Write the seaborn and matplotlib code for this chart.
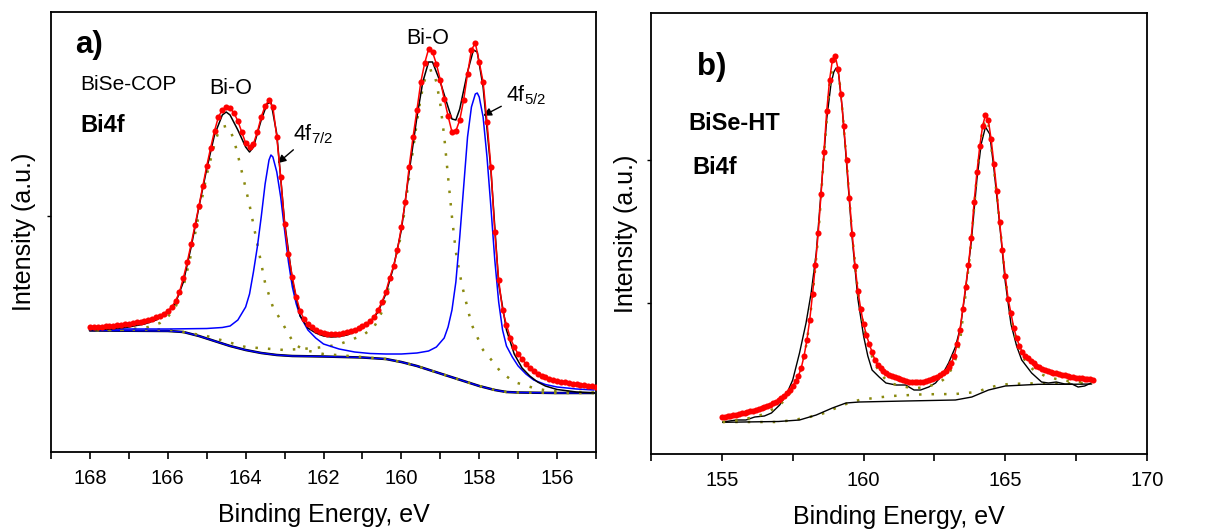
import numpy as np
import matplotlib
matplotlib.use("Agg")
import matplotlib.pyplot as plt
import seaborn as sns

# ---------------- Panel a (BiSe-COP) ----------------
be_a = np.round(np.arange(168.0, 154.95, -0.1), 1)
red_a = [125, 125, 125.5, 125.5, 126, 126, 126.5, 127, 127.5, 128,
         128.5, 129, 130, 130.5, 131.5, 132.5, 133.5, 135, 136.5, 138.5,
         141, 145, 151, 160, 174, 190, 208, 227, 246, 266,
         286, 304, 321, 335, 342, 345, 344, 339, 331, 320,
         309, 305, 308, 320, 335, 346, 352, 345, 315, 275,
         228, 198, 175, 155, 141, 133, 128, 125, 122.5, 120.5,
         119, 118.5, 118, 118, 118.5, 119, 120, 121, 122, 124,
         126, 128, 131, 135, 142, 150, 160, 174, 186, 202,
         225, 250, 285, 315, 342, 370, 389, 403, 400, 388,
         372, 353, 336, 320, 321, 332, 352, 378, 402, 409,
         390, 370, 330, 285, 220, 172, 142, 127, 114, 105,
         98, 93, 88, 84, 81, 78.5, 76.5, 75, 73.5, 72.5,
         71.5, 70.5, 70, 69, 68.5, 68, 67.5, 67, 66.5, 66,
         65.5]

fit_a_x = [168.0, 167.5, 167.0, 166.6, 166.3, 166.0, 165.8, 165.6, 165.4, 165.2,
           165.0, 164.8, 164.6, 164.5, 164.4, 164.2, 164.0, 163.9, 163.8, 163.6,
           163.45, 163.35, 163.2, 163.0, 162.8, 162.6, 162.4, 162.2, 162.0, 161.8,
           161.6, 161.4, 161.2, 161.0, 160.8, 160.6, 160.4, 160.2, 160.0, 159.8,
           159.6, 159.45, 159.3, 159.2, 159.0, 158.8, 158.7, 158.6, 158.5, 158.3,
           158.15, 158.05, 157.9, 157.7, 157.5, 157.3, 157.1, 156.9, 156.7, 156.5,
           156.3, 156.0, 155.5, 155.05]
fit_a_y = [122, 123, 125, 128, 132, 139, 149, 170, 205, 245,
           283, 317, 337, 340, 337, 322, 305, 300, 305, 332,
           348, 350, 318, 230, 172, 136, 124, 119, 116, 115,
           115.5, 117, 120, 124, 130, 140, 158, 185, 222, 280,
           335, 370, 390, 390, 370, 345, 333, 332, 343, 380,
           402, 400, 365, 282, 168, 122, 98, 84, 76, 70,
           66, 62.5, 60, 59]

bg_a_x = [168.0, 166.0, 165.6, 165.2, 164.8, 164.4, 164.0, 163.6, 163.2, 162.8,
          162.0, 161.0, 160.4, 160.0, 159.6, 159.2, 158.8, 158.4, 158.0, 157.6,
          157.3, 157.0, 156.0, 155.05]
bg_a_y = [121.5, 121, 120, 116, 111, 106, 102, 99, 97, 96,
          95.5, 94.5, 93, 90, 86, 81, 76, 71, 66, 62,
          60, 59.5, 59, 59]

bise_a_x = [168.0, 166.0, 165.0, 164.6, 164.4, 164.2, 164.0, 163.9, 163.8, 163.7,
            163.6, 163.5, 163.4, 163.35, 163.3, 163.2, 163.1, 163.0, 162.9, 162.8,
            162.7, 162.6, 162.4, 162.2, 162.0, 161.6, 161.2, 160.8, 160.4, 160.0,
            159.6, 159.3, 159.1, 158.9, 158.8, 158.7, 158.6, 158.5, 158.4, 158.3,
            158.2, 158.1, 158.05, 158.0, 157.9, 157.8, 157.7, 157.6, 157.5, 157.4,
            157.3, 157.15, 157.0, 156.8, 156.6, 156.3, 156.0, 155.5, 155.05]
bise_a_y = [123, 123, 123.5, 124.5, 126, 132, 145, 158, 180, 205,
            235, 268, 292, 297, 295, 280, 255, 222, 190, 165,
            148, 136, 122, 114, 108, 103, 100, 98.5, 98, 98,
            99, 101, 105, 114, 125, 142, 170, 215, 265, 315,
            345, 358, 359, 355, 335, 295, 245, 192, 150, 122,
            106, 95, 86, 78, 72, 67.5, 65, 63, 62]

bio1_a_x = [168.0, 167.0, 166.5, 166.2, 166.0, 165.8, 165.6, 165.4, 165.2, 165.0,
            164.8, 164.7, 164.6, 164.5, 164.4, 164.3, 164.2, 164.0, 163.9, 163.7,
            163.5, 163.3, 163.1, 162.9, 162.75, 162.5, 162.0, 161.5, 161.0, 160.4,
            160.0, 159.6, 159.2, 158.8, 158.4, 158.0, 157.6, 157.3, 157.0, 156.0,
            155.05]
bio1_a_y = [121.5, 122.5, 125, 129, 135, 145, 165, 198, 238, 277,
            308, 320, 325, 326, 322, 312, 297, 264, 247, 208,
            169, 145, 132, 118, 108, 102, 98, 96.5, 95, 93,
            90, 86, 81, 76, 71, 66, 62, 60, 59.5, 59,
            59]

bio2_a_x = [168.0, 166.0, 165.0, 164.0, 163.0, 162.2, 161.65, 161.3, 160.98, 160.7,
            160.5, 160.3, 160.0, 159.8, 159.6, 159.5, 159.4, 159.3, 159.2, 159.1,
            159.0, 158.9, 158.8, 158.7, 158.6, 158.45, 158.2, 157.9, 157.6, 157.45,
            157.1, 156.6, 156.2, 155.05]
bio2_a_y = [122, 122.5, 116, 105, 102, 104, 107, 112, 117, 125,
            140, 168, 218, 275, 330, 355, 372, 381, 382, 370,
            348, 316, 275, 235, 200, 168, 128, 102, 88, 80,
            70, 64, 61, 59.5]

# ---------------- Panel b (BiSe-HT) ----------------
be_b = np.round(np.arange(155.0, 168.15, 0.1), 1)
red_b = [37, 37.5, 38, 38.5, 39, 39.5, 40.5, 41, 41.5, 42.5,
         43, 43.5, 44.5, 45, 46, 47, 48, 49.5, 51, 52.5,
         54, 56, 58.5, 61.5, 64.5, 68, 73, 78, 86, 98,
         114, 134, 160, 189, 221, 260, 302, 343, 374, 394,
         398, 385, 360, 328, 294, 256, 220, 188, 163, 145,
         130, 119, 110, 102, 94, 89, 86, 83.5, 81.5, 79.5,
         78, 77, 76, 75, 74, 73, 72.5, 72, 72, 72,
         72, 72.5, 73, 74, 75, 76.5, 77.5, 79, 81, 83.5,
         87, 91, 98, 110, 124, 145, 167, 189, 216, 252,
         282, 308, 328, 339, 334, 315, 290, 263, 232, 204,
         178, 155, 141, 126, 116, 108, 102, 98.5, 96, 93.5,
         91, 88.5, 87, 85.5, 84.5, 83.5, 82.5, 81.5, 81, 80,
         79.5, 79, 78, 77.5, 77, 76.5, 76, 76, 75.5, 75,
         75, 74.5]

raw_b_x = [155.03, 155.52, 155.85, 156.16, 156.5, 156.75, 157.04, 157.27, 157.5, 157.74,
           157.97, 158.15, 158.33, 158.5, 158.7, 158.85, 158.95, 159.03, 159.12, 159.25,
           159.4, 159.6, 159.8, 160.0, 160.15, 160.3, 160.55, 160.79, 161.14, 161.49,
           161.6, 161.78, 162.01, 162.3, 162.54, 162.77, 163.0, 163.24, 163.42, 163.6,
           163.8, 164.0, 164.15, 164.3, 164.45, 164.6, 164.8, 165.0, 165.2, 165.4,
           165.58, 165.93, 166.28, 166.52, 166.8, 167.1, 167.35, 167.57, 167.8, 168.03]
raw_b_y = [32, 34, 34, 37, 38, 41, 49, 59, 74, 101,
           131, 161, 201, 262, 335, 370, 382, 386, 380, 345,
           290, 215, 155, 118, 98, 84, 77, 71, 69, 69,
           67, 64, 64, 67, 71, 79, 91, 107, 127, 165,
           212, 275, 310, 327, 320, 285, 230, 172, 130, 108,
           94, 81, 72, 71, 72, 70, 70, 67, 68, 71]

bg_b_x = [155.03, 157.0, 157.74, 158.33, 158.9, 159.38, 159.85, 161.49, 163.24, 163.82,
          164.41, 165.0, 166.17, 167.3, 168.05]
bg_b_y = [31.7, 32.5, 34, 39, 46, 51, 52, 53, 54, 57,
          64, 68, 69.7, 69.7, 70]

base_b_x = [155.03, 156.0, 157.0, 157.67, 158.44, 159.14, 159.5, 159.85, 160.5, 161.0,
            162.13, 163.24, 164.0, 164.35, 164.7, 165.12, 166.0, 167.0, 168.05]
base_b_y = [32, 32, 32, 34.7, 39, 47.3, 51.3, 54, 56.5, 58,
            59.7, 60, 62, 65.7, 68.3, 70, 70.7, 70.7, 70.7]

fitc_b_x = [155.03, 155.5, 156.0, 156.5, 157.0, 157.3, 157.6, 157.8, 158.0, 158.2,
            158.4, 158.6, 158.8, 158.95, 159.05, 159.2, 159.4, 159.6, 159.8, 160.0,
            160.2, 160.4, 160.6, 160.8, 161.0, 161.3, 161.6, 161.9, 162.2, 162.5,
            162.8, 163.0, 163.2, 163.4, 163.6, 163.8, 164.0, 164.2, 164.3, 164.4,
            164.6, 164.8, 165.0, 165.2, 165.4, 165.6, 165.8, 166.0, 166.4, 166.8,
            167.2, 167.6, 168.05]
fitc_b_y = [32, 33.5, 36, 40, 48, 56, 70, 85, 112, 158,
            218, 298, 370, 393, 393, 362, 292, 218, 162, 128,
            105, 90, 80, 74, 70.5, 68, 66.5, 66, 67, 69.5,
            74, 80, 90, 112, 160, 212, 280, 326, 335, 331,
            285, 232, 175, 137, 112, 98, 89, 84, 78, 75,
            73, 72, 71]

# ---------------- Style ----------------
sns.set_style("ticks")
plt.rcParams['font.family'] = ['Liberation Sans', 'DejaVu Sans']
plt.rcParams['mathtext.fontset'] = 'custom'
plt.rcParams['mathtext.rm'] = 'Liberation Sans'
plt.rcParams['mathtext.it'] = 'Liberation Sans:italic'
plt.rcParams['mathtext.bf'] = 'Liberation Sans:bold'
for k in ('text.color', 'axes.labelcolor', 'xtick.color', 'ytick.color', 'axes.edgecolor'):
    plt.rcParams[k] = 'black'

RED = '#ff0000'
BLUE = '#0000ff'
OLIVE = '#8a8a10'
DOT = (0, (1.0, 4.0))

fig = plt.figure(figsize=(12.13, 5.29), dpi=100)
axa = fig.add_axes([51 / 1213, 1 - 452 / 529, 545 / 1213, 440 / 529])
axb = fig.add_axes([651 / 1213, 1 - 454 / 529, 496 / 1213, 441 / 529])

# panel a drawing
sns.lineplot(x=bg_a_x, y=bg_a_y, ax=axa, color='black', linewidth=1.8, estimator=None, zorder=2)
sns.lineplot(x=bg_a_x, y=bg_a_y, ax=axa, color=BLUE, linewidth=1.0, estimator=None, zorder=3)
sns.lineplot(x=bio1_a_x, y=bio1_a_y, ax=axa, color=OLIVE, linewidth=1.8, linestyle=DOT, estimator=None, zorder=3)
sns.lineplot(x=bio2_a_x, y=bio2_a_y, ax=axa, color=OLIVE, linewidth=1.8, linestyle=DOT, estimator=None, zorder=3)
sns.lineplot(x=bise_a_x, y=bise_a_y, ax=axa, color=BLUE, linewidth=1.1, estimator=None, zorder=4)
sns.lineplot(x=fit_a_x, y=fit_a_y, ax=axa, color='black', linewidth=1.1, estimator=None, zorder=5)
sns.lineplot(x=be_a, y=red_a, ax=axa, color=RED, linewidth=1.1, marker='o', markersize=4.4,
             markeredgewidth=0, estimator=None, zorder=6)

# panel b drawing
sns.lineplot(x=base_b_x, y=base_b_y, ax=axb, color=OLIVE, linewidth=1.8, linestyle=DOT, estimator=None, zorder=3)
sns.lineplot(x=bg_b_x, y=bg_b_y, ax=axb, color='black', linewidth=1.0, estimator=None, zorder=3)
sns.lineplot(x=raw_b_x, y=raw_b_y, ax=axb, color='black', linewidth=1.0, estimator=None, zorder=4)
sns.lineplot(x=fitc_b_x, y=fitc_b_y, ax=axb, color=OLIVE, linewidth=1.8, linestyle=DOT, estimator=None, zorder=5)
sns.lineplot(x=be_b, y=red_b, ax=axb, color=RED, linewidth=1.1, marker='o', markersize=4.4,
             markeredgewidth=0, estimator=None, zorder=6)

for ax in (axa, axb):
    for s in ax.spines.values():
        s.set_visible(True)
        s.set_linewidth(1.3)
        s.set_color('black')
    ax.tick_params(axis='x', which='both', direction='out', length=5, width=1.2,
                   labelsize=14.5, pad=7, colors='black')
    ax.tick_params(axis='y', which='both', direction='out', length=3, width=1.0,
                   labelleft=False)
    ax.set_xlabel('Binding Energy, eV', fontsize=18, labelpad=11)
    ax.set_ylabel('Intensity (a.u.)', fontsize=18, labelpad=8)
    ax.grid(False)

axa.set_xlim(169, 155)
axa.set_ylim(0, 440)
axa.set_xticks([168, 166, 164, 162, 160, 158, 156])
axa.set_xticks([169, 167, 165, 163, 161, 159, 157, 155], minor=True)
axa.set_yticks([236])

axb.set_xlim(152.5, 170)
axb.set_ylim(0, 441)
axb.set_xticks([155, 160, 165, 170])
axb.set_xticks([152.5, 157.5, 162.5, 167.5], minor=True)
axb.set_yticks([151, 294])
axb.yaxis.labelpad = 6

# panel a annotations
axa.text(168.37, 407, 'a)', fontsize=22.5, fontweight='bold', ha='left', va='center')
axa.text(168.24, 367, 'BiSe-COP', fontsize=15, ha='left', va='center')
axa.text(168.24, 327, 'Bi4f', fontsize=17, fontweight='bold', ha='left', va='center')
axa.text(164.39, 364, 'Bi-O', fontsize=15.5, ha='center', va='center')
axa.text(159.32, 414, 'Bi-O', fontsize=15.5, ha='center', va='center')
axa.annotate('', xy=(163.23, 287), xytext=(162.72, 304),
             arrowprops=dict(arrowstyle='-|>', color='black', lw=1.0, mutation_scale=12))
axa.text(162.78, 318, r'4f$_{7/2}$', fontsize=15.5, ha='left', va='center')
axa.annotate('', xy=(157.96, 335), xytext=(157.37, 347),
             arrowprops=dict(arrowstyle='-|>', color='black', lw=1.0, mutation_scale=12))
axa.text(157.32, 357, r'4f$_{5/2}$', fontsize=15.5, ha='left', va='center')

# panel b annotations
axb.text(154.12, 387, 'b)', fontsize=22.5, fontweight='bold', ha='left', va='center')
axb.text(153.82, 331, 'BiSe-HT', fontsize=17, fontweight='bold', ha='left', va='center')
axb.text(153.95, 286, 'Bi4f', fontsize=17, fontweight='bold', ha='left', va='center')

fig.savefig('out.png', dpi=100, facecolor='white')
